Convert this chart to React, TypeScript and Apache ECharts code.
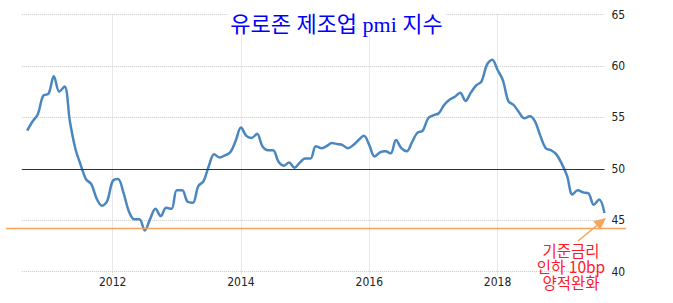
import React, { useEffect, useRef } from "react";
import * as echarts from "echarts";

// Monthly categories: Aug 2010 (empty lead-in) .. Sep 2019
const startYear = 2010;
const startMonth = 8;
const monthCount = 110;
const categories: string[] = [];
for (let i = 0; i < monthCount; i++) {
  const m = startMonth - 1 + i;
  const y = startYear + Math.floor(m / 12);
  const mm = (m % 12) + 1;
  categories.push(`${y}-${mm < 10 ? "0" + mm : mm}`);
}

// Eurozone manufacturing PMI
const pmiValues: (number | null)[] = [
  null, 53.7, 54.6, 55.3, 57.1,
  57.3, 59.0, 57.5, 58.0, 54.6, 52.0, 50.4, 49.0, 48.5, 47.1, 46.4, 46.9,
  48.8, 49.0, 47.7, 45.9, 45.1, 45.1, 44.0, 45.1, 46.1, 45.4, 46.2, 46.1,
  47.9, 47.9, 46.8, 46.7, 48.3, 48.8, 50.3, 51.4, 51.1, 51.3, 51.6, 52.7,
  54.0, 53.2, 53.0, 53.4, 52.2, 51.8, 51.8, 50.7, 50.3, 50.6, 50.1, 50.6,
  51.0, 51.0, 52.2, 52.0, 52.2, 52.5, 52.4, 52.3, 52.0, 52.3, 52.8, 53.2,
  52.3, 51.2, 51.6, 51.7, 51.5, 52.8, 52.0, 51.7, 52.6, 53.5, 53.7, 54.9,
  55.2, 55.4, 56.2, 56.7, 57.0, 57.4, 56.6, 57.4, 58.1, 58.5, 60.1, 60.6,
  59.6, 58.6, 56.6, 56.2, 55.5, 54.9, 55.1, 54.6, 53.2, 52.0, 51.8, 51.4,
  50.5, 49.3, 47.5, 47.9, 47.7, 47.6, 46.5, 47.0, 45.7,
];

const yTicks = [40, 45, 50, 55, 60, 65];
const referenceLevel = 50;
const supportLevel = 44.2;
const titleText = "유로존 제조업 pmi 지수";
const noteLines = ["기준금리", "인하 10bp", "양적완화"];

const isLabelMonth = (v: string) => v.endsWith("-01") && parseInt(v.slice(0, 4)) % 2 === 0;

export default function App() {
  const ref = useRef<HTMLDivElement>(null);
  useEffect(() => {
    if (!ref.current) return;
    const chart = echarts.init(ref.current, null, { renderer: "svg" });
    const axisFont = "'Liberation Sans Narrow', 'DejaVu Sans Condensed', 'Liberation Sans', sans-serif";
    chart.setOption({
      animation: false,
      title: {
        text: titleText,
        left: "center",
        top: 15,
        padding: [0, 3],
        backgroundColor: "#ffffff",
        textStyle: {
          color: "#0000ff",
          fontSize: 22,
          fontWeight: "normal",
          lineHeight: 18,
          fontFamily: "'Liberation Serif', 'Noto Sans CJK KR', serif",
        },
        z: 10,
      },
      grid: { left: 21.8, right: 68.5, top: 14.5, bottom: 31.4 },
      xAxis: {
        type: "category",
        data: categories,
        boundaryGap: false,
        axisLine: { show: false },
        axisTick: {
          show: true,
          length: 4,
          interval: (_i: number, v: string) => isLabelMonth(v),
          lineStyle: { color: "#d0d0d0", type: "dotted" },
        },
        axisLabel: {
          interval: (_i: number, v: string) => isLabelMonth(v),
          formatter: (v: string) => v.slice(0, 4),
          color: "#222",
          fontSize: 12,
          margin: 4,
          fontFamily: axisFont,
        },
        splitLine: {
          show: true,
          interval: (_i: number, v: string) => isLabelMonth(v),
          lineStyle: { color: "#d0d0d0", type: "dotted", width: 1 },
        },
      },
      yAxis: {
        type: "value",
        position: "right",
        min: yTicks[0],
        max: yTicks[yTicks.length - 1],
        interval: 5,
        axisLine: { show: false },
        axisTick: { show: false },
        axisLabel: { color: "#222", fontSize: 12, margin: 7, fontFamily: axisFont },
        splitLine: { lineStyle: { color: "#c8c8c8", type: "dotted", width: 1 } },
      },
      series: [
        {
          type: "line",
          data: pmiValues,
          showSymbol: false,
          symbol: "none",
          smooth: 0.35,
          lineStyle: { color: "#4a86bf", width: 2.5 },
          markLine: {
            silent: true,
            symbol: "none",
            label: { show: false },
            lineStyle: { color: "#333", type: "solid", width: 1 },
            data: [{ yAxis: referenceLevel }],
          },
        },
      ],
    });

    const ySupport = chart.convertToPixel({ yAxisIndex: 0 }, supportLevel) as number;
    const last = chart.convertToPixel({ seriesIndex: 0 }, [
      categories[categories.length - 1],
      pmiValues[pmiValues.length - 1],
    ]) as number[];
    const tipX = last[0] + 1.5;
    const tipY = last[1] + 5;
    const tailX = tipX - 28;
    const tailY = tipY + 23;
    const dx = tipX - tailX;
    const dy = tipY - tailY;
    const len = Math.sqrt(dx * dx + dy * dy);
    const ux = dx / len;
    const uy = dy / len;
    const headLen = 12;
    const headHalf = 5.5;
    const bx = tipX - ux * headLen;
    const by = tipY - uy * headLen;
    const orange = "#f5a55c";

    const noteTexts = noteLines.map((line, i) => ({
      type: "text",
      x: 571,
      y: 242 + i * 16,
      style: {
        text: line,
        fill: "#ff1a2a",
        fontSize: 15.5,
        align: "center",
        verticalAlign: "top",
        fontFamily: "'Noto Sans CJK KR', sans-serif",
      },
      z: 7,
    }));

    chart.setOption({
      graphic: [
        {
          type: "line",
          shape: { x1: 6, y1: ySupport, x2: 626, y2: ySupport },
          style: { stroke: orange, lineWidth: 1.5 },
          z: 5,
        },
        {
          type: "line",
          shape: { x1: tailX, y1: tailY, x2: bx, y2: by },
          style: { stroke: orange, lineWidth: 1.5 },
          z: 6,
        },
        {
          type: "polygon",
          shape: {
            points: [
              [tipX, tipY],
              [bx - uy * headHalf, by + ux * headHalf],
              [bx + uy * headHalf, by - ux * headHalf],
            ],
          },
          style: { fill: orange },
          z: 6,
        },
        ...noteTexts,
      ],
    });

    return () => chart.dispose();
  }, []);
  return (
    <div
      ref={ref}
      style={{ position: "fixed", left: 0, top: 0, width: 673, height: 303, background: "#fff" }}
    />
  );
}
